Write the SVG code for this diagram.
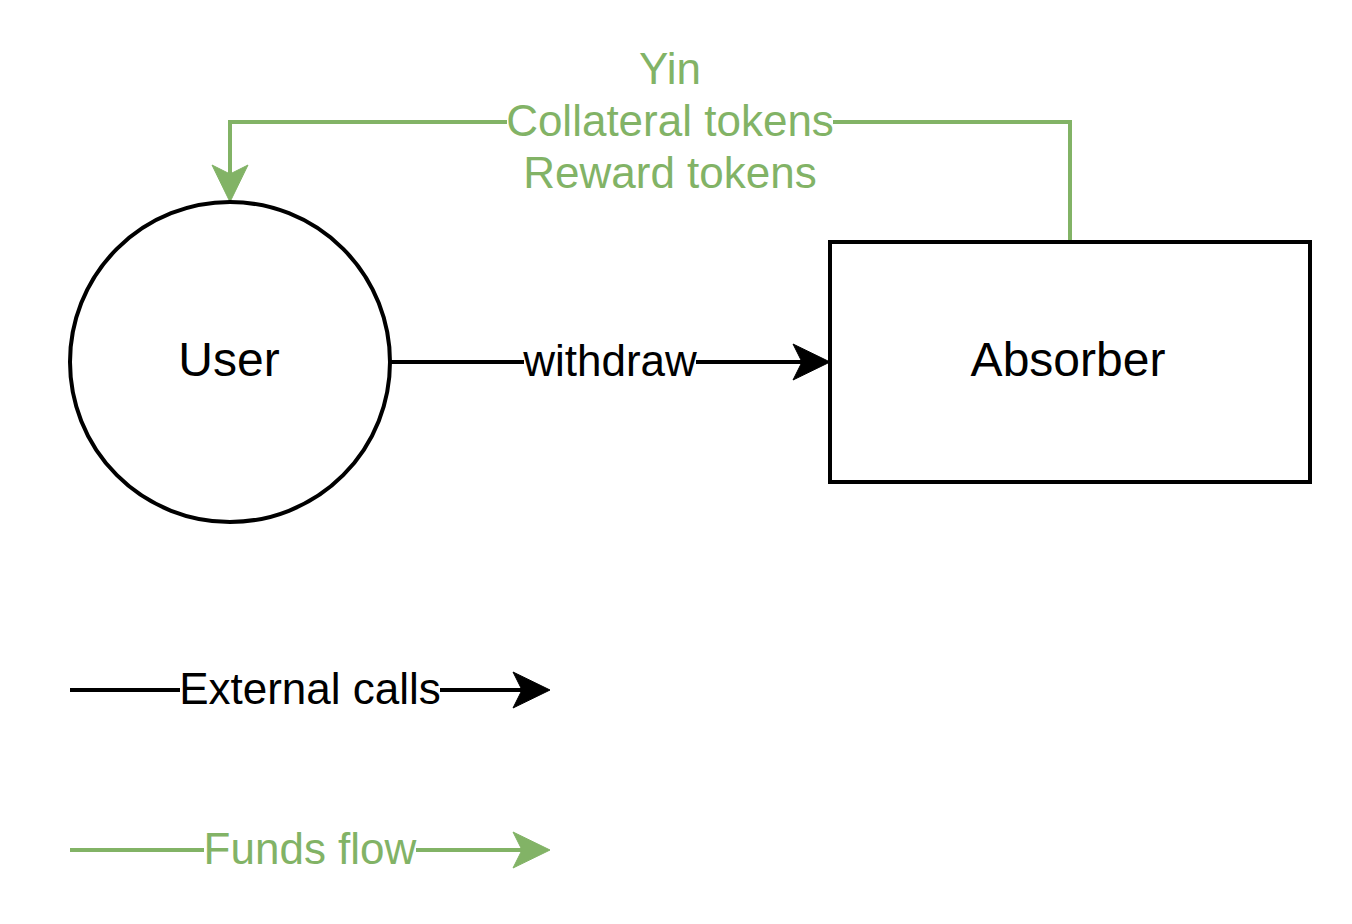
<svg xmlns="http://www.w3.org/2000/svg" width="1352" height="924" viewBox="0 0 1352 924">
<style>
.node{fill:#fff;stroke:#000;stroke-width:4}
.blk{fill:none;stroke:#000;stroke-width:4}
.grn{fill:none;stroke:#82b366;stroke-width:4}
.t{font-family:"Liberation Sans",Arial,sans-serif;text-anchor:middle}
.nl{font-size:48px;fill:#000}
.el{font-size:44px;fill:#000}
.gl{font-size:44px;fill:#82b366}
.bg{fill:#fff}
</style>
<defs>
<marker id="ab" markerUnits="userSpaceOnUse" viewBox="-10 -20 40 40" markerWidth="40" markerHeight="40" refX="0" refY="0" orient="auto" overflow="visible">
<path d="M28,0 L-9,-18 L0,0 L-9,18 Z" fill="#000" stroke="#000" stroke-width="1"/>
</marker>
<marker id="ag" markerUnits="userSpaceOnUse" viewBox="-10 -20 40 40" markerWidth="40" markerHeight="40" refX="0" refY="0" orient="auto" overflow="visible">
<path d="M28,0 L-9,-18 L0,0 L-9,18 Z" fill="#82b366" stroke="#82b366" stroke-width="1"/>
</marker>
</defs>
<rect width="1352" height="924" fill="#fff"/>
<g id="connectors">
<g id="edge-withdraw">
<path class="blk" d="M390,362 H802" marker-end="url(#ab)"/>
<rect class="bg" x="524" y="342" width="172" height="40"/>
<text class="t el" x="610" y="376">withdraw</text>
</g>
<g id="edge-funds">
<path class="grn" d="M1070,242 V122 H230 V174" marker-end="url(#ag)"/>
<rect class="bg" x="507" y="102" width="326" height="40"/>
<text class="t gl" x="670" y="84">Yin</text>
<text class="t gl" x="670" y="136">Collateral tokens</text>
<text class="t gl" x="670" y="188">Reward tokens</text>
</g>
</g>
<g id="user">
<circle class="node" cx="230" cy="362" r="160"/>
<text class="t nl" x="229" y="376">User</text>
</g>
<g id="absorber">
<rect class="node" x="830" y="242" width="480" height="240"/>
<text class="t nl" x="1068" y="376">Absorber</text>
</g>
<g id="legend">
<g id="legend-external">
<path class="blk" d="M70,690 H522" marker-end="url(#ab)"/>
<rect class="bg" x="180" y="670" width="260" height="40"/>
<text class="t el" x="310" y="704">External calls</text>
</g>
<g id="legend-funds">
<path class="grn" d="M70,850 H522" marker-end="url(#ag)"/>
<rect class="bg" x="204" y="830" width="212" height="40"/>
<text class="t gl" x="310" y="864">Funds flow</text>
</g>
</g>
</svg>
